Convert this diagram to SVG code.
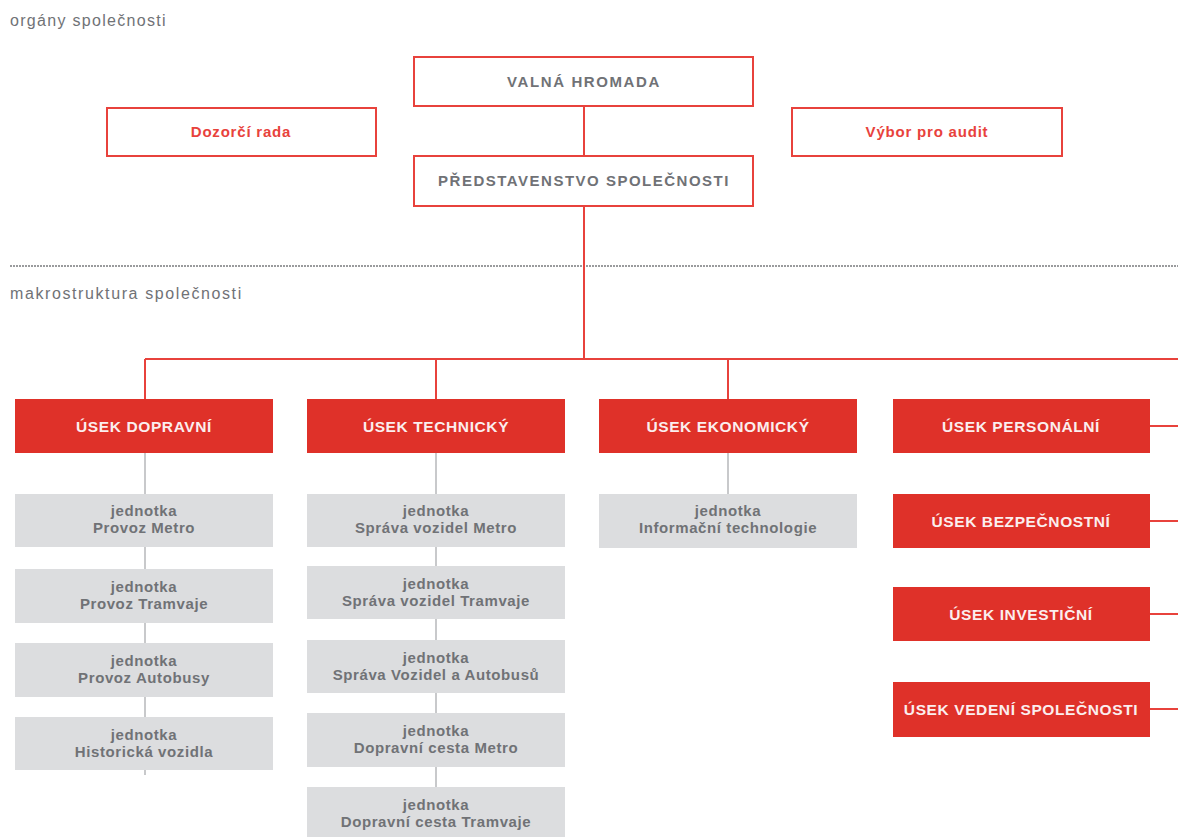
<svg xmlns="http://www.w3.org/2000/svg" width="1178" height="837" viewBox="0 0 1178 837">
<style>
.bg{fill:#fff}
.ob{fill:#fff;stroke:#e8423c;stroke-width:2}
.rb{fill:#df3129}
.gb{fill:#dcdddf}
.t{font-family:"Liberation Sans",Arial,sans-serif;text-anchor:middle;font-weight:bold}
.tg{fill:#707276;font-size:15px;letter-spacing:1.6px}
.tr{fill:#e8423c;font-size:15px;letter-spacing:0.8px}
.tw{fill:#fbeeee;font-size:15.5px;letter-spacing:0.6px}
.tu{fill:#707276;font-size:15px;letter-spacing:0.6px}
.lab{font-family:"Liberation Sans",Arial,sans-serif;fill:#707276;font-size:16px;letter-spacing:1.3px}
.rl{stroke:#e8423c;stroke-width:2;fill:none}
.gl{stroke:#c8c9cb;stroke-width:2;fill:none}
</style>
<rect class="bg" width="1178" height="837"/>
<text class="lab" x="10" y="26">orgány společnosti</text>
<text class="lab" x="10" y="299" style="letter-spacing:1.6px">makrostruktura společnosti</text>
<line x1="10" y1="266" x2="1178" y2="266" stroke="#9a9b9d" stroke-width="2" stroke-dasharray="2,1"/>
<g id="connectors">
<line class="rl" x1="584" y1="106" x2="584" y2="156"/>
<line class="rl" x1="584" y1="206" x2="584" y2="359"/>
<line class="rl" x1="145" y1="359" x2="1178" y2="359"/>
<line class="rl" x1="145" y1="359" x2="145" y2="399"/>
<line class="rl" x1="436" y1="359" x2="436" y2="399"/>
<line class="rl" x1="728" y1="359" x2="728" y2="399"/>
<line class="rl" x1="1150" y1="426" x2="1178" y2="426"/>
<line class="rl" x1="1150" y1="521" x2="1178" y2="521"/>
<line class="rl" x1="1150" y1="614" x2="1178" y2="614"/>
<line class="rl" x1="1150" y1="709" x2="1178" y2="709"/>
<line class="gl" x1="145" y1="453" x2="145" y2="775"/>
<line class="gl" x1="436" y1="453" x2="436" y2="837"/>
<line class="gl" x1="728" y1="453" x2="728" y2="494"/>
</g>
<g id="valna"><rect class="ob" x="414" y="57" width="339" height="49"/><text class="t tg" x="584" y="87">VALNÁ HROMADA</text></g>
<g id="dozorci"><rect class="ob" x="107" y="108" width="269" height="48"/><text class="t tr" x="241" y="137">Dozorčí rada</text></g>
<g id="vybor"><rect class="ob" x="792" y="108" width="270" height="48"/><text class="t tr" x="927" y="137">Výbor pro audit</text></g>
<g id="predstavenstvo"><rect class="ob" x="414" y="156" width="339" height="50"/><text class="t tg" x="584" y="186" style="letter-spacing:1.5px">PŘEDSTAVENSTVO SPOLEČNOSTI</text></g>
<g id="dopravni"><rect class="rb" x="15" y="399" width="258" height="54"/><text class="t tw" x="144" y="432">ÚSEK DOPRAVNÍ</text></g>
<g id="technicky"><rect class="rb" x="307" y="399" width="258" height="54"/><text class="t tw" x="436" y="432">ÚSEK TECHNICKÝ</text></g>
<g id="ekonomicky"><rect class="rb" x="599" y="399" width="258" height="54"/><text class="t tw" x="728" y="432">ÚSEK EKONOMICKÝ</text></g>
<g id="personalni"><rect class="rb" x="893" y="399" width="257" height="54"/><text class="t tw" x="1021" y="432">ÚSEK PERSONÁLNÍ</text></g>
<g id="bezpecnostni"><rect class="rb" x="893" y="494" width="257" height="54"/><text class="t tw" x="1021" y="527">ÚSEK BEZPEČNOSTNÍ</text></g>
<g id="investicni"><rect class="rb" x="893" y="587" width="257" height="54"/><text class="t tw" x="1021" y="620">ÚSEK INVESTIČNÍ</text></g>
<g id="vedeni"><rect class="rb" x="893" y="682" width="257" height="55"/><text class="t tw" x="1021" y="715">ÚSEK VEDENÍ SPOLEČNOSTI</text></g>
<g id="u-metro"><rect class="gb" x="15" y="494" width="258" height="53"/><text class="t tu" x="144" y="516">jednotka<tspan x="144" dy="17">Provoz Metro</tspan></text></g>
<g id="u-tram"><rect class="gb" x="15" y="569" width="258" height="54"/><text class="t tu" x="144" y="592">jednotka<tspan x="144" dy="17">Provoz Tramvaje</tspan></text></g>
<g id="u-bus"><rect class="gb" x="15" y="643" width="258" height="54"/><text class="t tu" x="144" y="666">jednotka<tspan x="144" dy="17">Provoz Autobusy</tspan></text></g>
<g id="u-hist"><rect class="gb" x="15" y="717" width="258" height="53"/><text class="t tu" x="144" y="740">jednotka<tspan x="144" dy="17">Historická vozidla</tspan></text></g>
<g id="u-svm"><rect class="gb" x="307" y="494" width="258" height="53"/><text class="t tu" x="436" y="516">jednotka<tspan x="436" dy="17">Správa vozidel Metro</tspan></text></g>
<g id="u-svt"><rect class="gb" x="307" y="566" width="258" height="53"/><text class="t tu" x="436" y="589">jednotka<tspan x="436" dy="17">Správa vozidel Tramvaje</tspan></text></g>
<g id="u-sva"><rect class="gb" x="307" y="640" width="258" height="53"/><text class="t tu" x="436" y="663">jednotka<tspan x="436" dy="17">Správa Vozidel a Autobusů</tspan></text></g>
<g id="u-dcm"><rect class="gb" x="307" y="713" width="258" height="54"/><text class="t tu" x="436" y="736">jednotka<tspan x="436" dy="17">Dopravní cesta Metro</tspan></text></g>
<g id="u-dct"><rect class="gb" x="307" y="787" width="258" height="50"/><text class="t tu" x="436" y="810">jednotka<tspan x="436" dy="17">Dopravní cesta Tramvaje</tspan></text></g>
<g id="u-it"><rect class="gb" x="599" y="494" width="258" height="54"/><text class="t tu" x="728" y="516">jednotka<tspan x="728" dy="17">Informační technologie</tspan></text></g>
</svg>
